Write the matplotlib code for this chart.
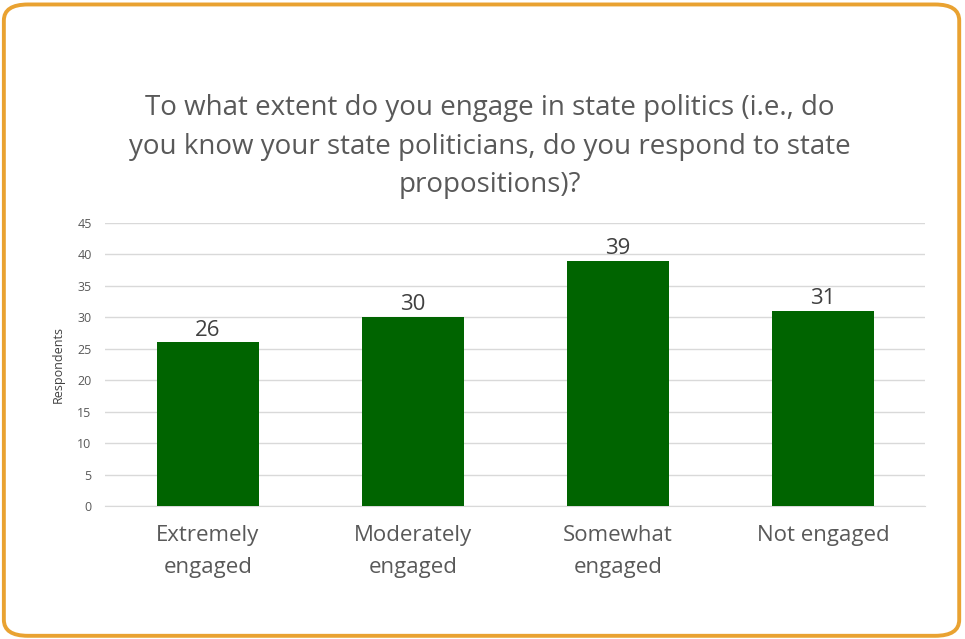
import matplotlib.pyplot as plt
from matplotlib.patches import FancyBboxPatch

# data
categories = ["Extremely\nengaged", "Moderately\nengaged", "Somewhat\nengaged", "Not engaged"]
respondents = [26, 30, 39, 31]
yticks = [0, 5, 10, 15, 20, 25, 30, 35, 40, 45]

plt.rcParams['font.family'] = ['Open Sans', 'DejaVu Sans']

fig = plt.figure(figsize=(9.65, 6.39), dpi=100, facecolor='white')

# rounded orange frame
frame = FancyBboxPatch((0.004, 0.005), 0.990, 0.988,
                       boxstyle="round,pad=0,rounding_size=0.025",
                       transform=fig.transFigure, facecolor='none',
                       edgecolor='#E9A231', linewidth=2.8, zorder=0)
fig.patches.append(frame)

ax = fig.add_axes([0.1093, 0.2081, 0.8497, 0.4430])
ax.set_facecolor('none')

x = range(len(categories))
bars = ax.bar(x, respondents, width=0.5, color='#006400', zorder=3)

for b, v in zip(bars, respondents):
    ax.text(b.get_x() + b.get_width() / 2, v + 0.3, str(v), ha='center', va='bottom',
            fontsize=16, color='#404040')

ax.set_xlim(-0.5, 3.5)
ax.set_ylim(0, 45)
ax.set_yticks(yticks)
ax.set_yticklabels([str(t) for t in yticks], fontsize=9, color='#595959')
ax.set_xticks(list(x))
ax.set_xticklabels(categories, fontsize=16, color='#595959', linespacing=1.65)
ax.tick_params(axis='both', length=0, pad=10)
ax.tick_params(axis='x', pad=14)

ax.grid(axis='y', color='#D9D9D9', linewidth=1, zorder=0)
for s in ['top', 'right', 'left']:
    ax.spines[s].set_visible(False)
ax.spines['bottom'].set_color('#D9D9D9')

ax.set_ylabel("Respondents", fontsize=9, color='#404040', labelpad=9)

fig.text(0.508, 0.77, "To what extent do you engage in state politics (i.e., do\n"
         "you know your state politicians, do you respond to state\n"
         "propositions)?", ha='center', va='center', fontsize=20,
         color='#595959', linespacing=1.5)

plt.savefig("out.png", dpi=100)
